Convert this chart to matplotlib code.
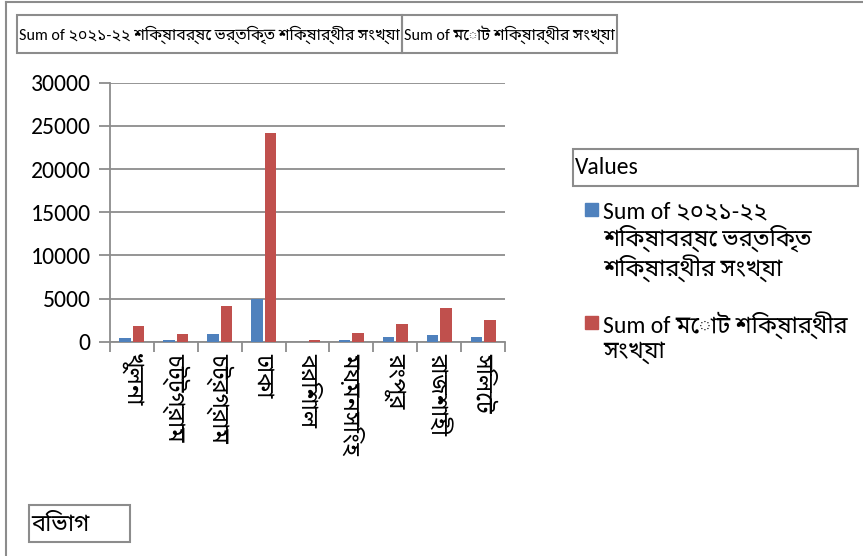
import matplotlib
matplotlib.use("Agg")
import matplotlib.pyplot as plt
from matplotlib.patches import Rectangle
from matplotlib.lines import Line2D
import numpy as np

plt.rcParams['font.family'] = ['Carlito', 'Noto Sans Bengali', 'Noto Sans', 'DejaVu Sans']

divisions = ["খুলনা", "চট্টগ্রাম", "চট্রগ্রাম", "ঢাকা", "বরিশাল",
             "ময়মনসিংহ", "রংপুর", "রাজশাহী", "সিলেট"]
admitted = [390, 190, 890, 4940, 20, 190, 500, 770, 540]
total = [1780, 850, 4130, 24130, 150, 960, 2050, 3860, 2550]

series1 = "Sum of ২০২১-২২ শিক্ষাবর্ষে ভর্তিকৃত শিক্ষার্থীর সংখ্যা"
series2 = "Sum of মোট শিক্ষার্থীর সংখ্যা"
legend1 = "Sum of ২০২১-২২\nশিক্ষাবর্ষে ভর্তিকৃত\nশিক্ষার্থীর সংখ্যা"
legend2 = "Sum of মোট শিক্ষার্থীর\nসংখ্যা"

W, H = 863, 556
blue = "#4F81BD"
red = "#C0504D"
grey = "#8C8C8C"

fig = plt.figure(figsize=(W / 100, H / 100), dpi=100)


def fx(x):
    return x / W


def fy(y):
    return 1 - y / H


def box(x0, y0, x1, y1):
    fig.add_artist(Rectangle((fx(x0), fy(y1)), fx(x1) - fx(x0), fy(y0) - fy(y1),
                             fc='none', ec=grey, lw=1.5, zorder=5))


# outer frame (top and left edges visible)
fig.add_artist(Line2D([fx(6), 1], [fy(1.5), fy(1.5)], color=grey, lw=1.5))
fig.add_artist(Line2D([fx(6), fx(6)], [fy(1.5), 0], color=grey, lw=1.5))

ax = fig.add_axes([fx(110), fy(341.7), fx(505) - fx(110), fy(82.7) - fy(341.7)])
x = np.arange(len(divisions))
ax.bar(x - 0.155, admitted, width=0.26, color=blue, zorder=3)
ax.bar(x + 0.155, total, width=0.26, color=red, zorder=3)

ax.set_xlim(-0.5, len(divisions) - 0.5)
ax.set_ylim(0, 30000)
ax.set_yticks(range(0, 30001, 5000))
ax.yaxis.grid(True, color=grey, lw=1.3, zorder=0)
ax.tick_params(axis='y', labelsize=17, length=8, color=grey, width=1.3, pad=6)
ax.set_xticks(np.arange(len(divisions) + 1) - 0.5, minor=False)
ax.set_xticklabels([])
ax.set_xticks(x, minor=True)
ax.set_xticklabels(divisions, minor=True, rotation=-90, fontsize=17, va='top', ha='center')
ax.tick_params(axis='x', which='major', length=7, color=grey, width=1.3)
ax.tick_params(axis='x', which='minor', length=0, pad=8)
for s in ['top', 'right']:
    ax.spines[s].set_visible(False)
for s in ['left', 'bottom']:
    ax.spines[s].set_color(grey)
    ax.spines[s].set_linewidth(1.3)

# field buttons at top
t1 = fig.text(fx(19), fy(35), series1, fontsize=11.5, va='center', ha='left')
fig.canvas.draw()
e1 = t1.get_window_extent()
box(17, 15, e1.x1 + 2, 53)
t2 = fig.text(fx(e1.x1 + 4), fy(35), series2, fontsize=11.5, va='center', ha='left')
fig.canvas.draw()
e2 = t2.get_window_extent()
box(e1.x1 + 2, 15, e2.x1 + 2, 53)

# legend
box(573, 149, 858, 186)
fig.text(fx(575), fy(168), "Values", fontsize=17, va='center', ha='left')
fig.add_artist(Rectangle((fx(585), fy(216)), fx(598) - fx(585), fy(203) - fy(216), color=blue))
fig.text(fx(603), fy(201), legend1, fontsize=17, va='top', ha='left', linespacing=1.12)
fig.add_artist(Rectangle((fx(585), fy(329)), fx(598) - fx(585), fy(316) - fy(329), color=red))
fig.text(fx(603), fy(311), legend2, fontsize=17, va='top', ha='left', linespacing=1.12)

# row field button
fig.text(fx(31), fy(524), "বিভাগ", fontsize=17, va='center', ha='left')
box(29, 505, 130, 542)

fig.savefig("out.png", dpi=100)
